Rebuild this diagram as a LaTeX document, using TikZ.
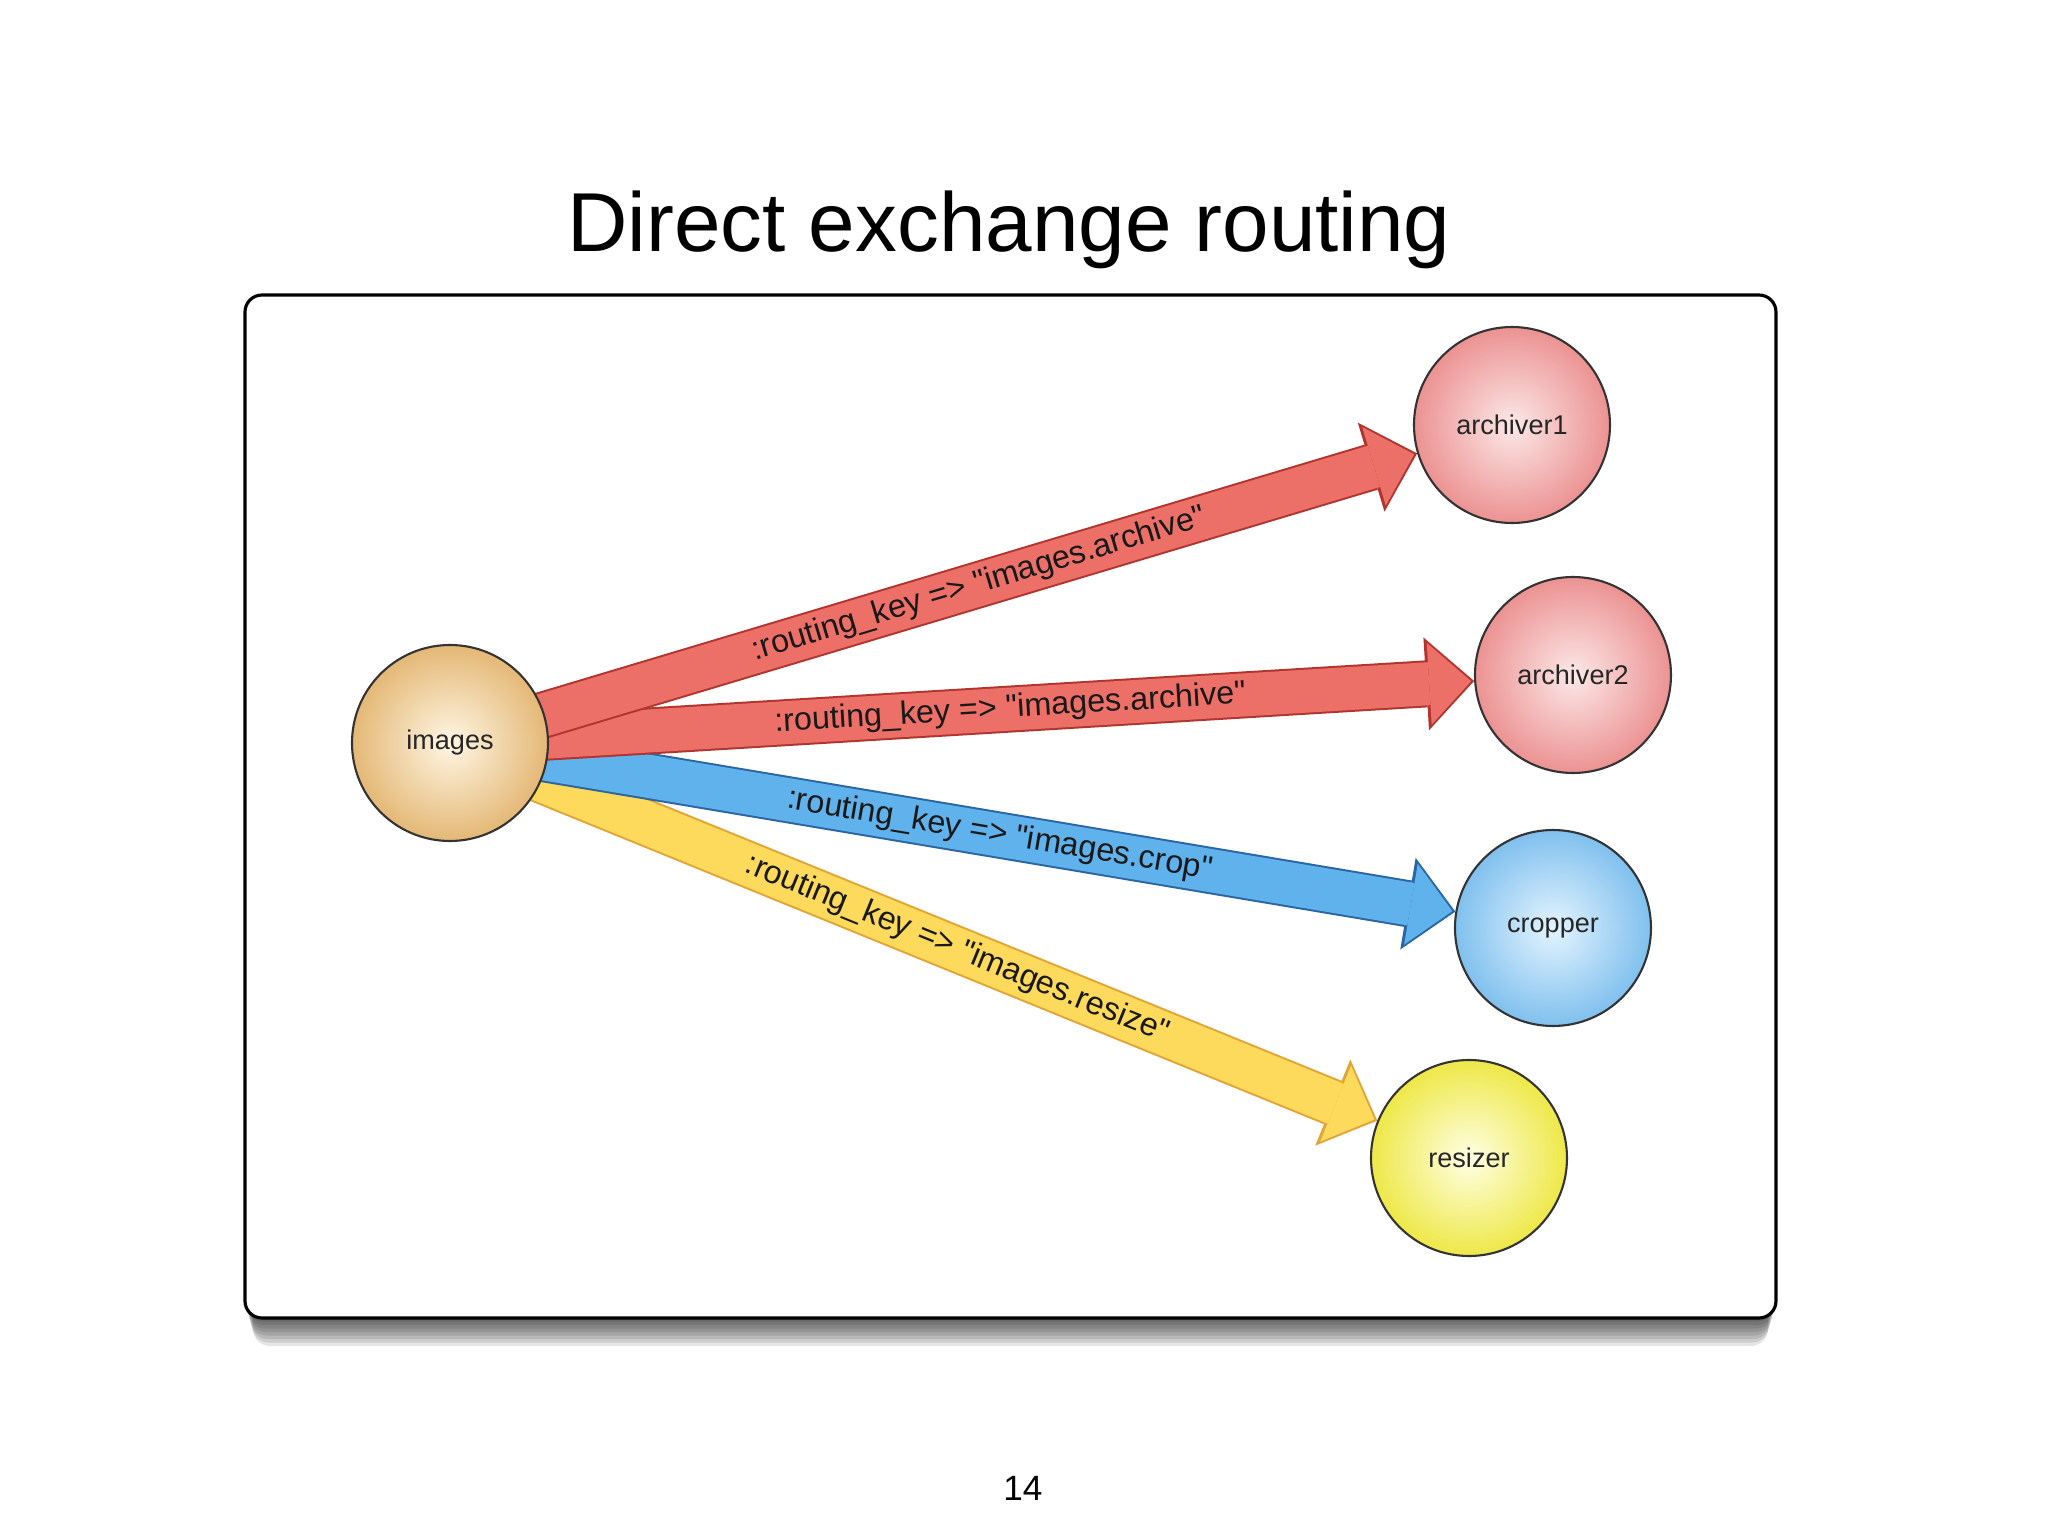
\documentclass[tikz,border=0pt]{standalone}
\usepackage{fontspec}
\setmainfont{Liberation Sans}
\usepackage{xcolor}
\usetikzlibrary{arrows.meta,backgrounds}
\definecolor{archin}{RGB}{252,232,232}
\definecolor{archout}{RGB}{236,146,146}
\definecolor{imgin}{RGB}{255,246,228}
\definecolor{imgout}{RGB}{228,184,118}
\definecolor{cropin}{RGB}{228,244,255}
\definecolor{cropout}{RGB}{128,192,238}
\definecolor{sizein}{RGB}{255,255,228}
\definecolor{sizeout}{RGB}{238,232,72}
\definecolor{redband}{RGB}{236,112,104}
\definecolor{redline}{RGB}{178,52,46}
\definecolor{blueband}{RGB}{96,178,236}
\definecolor{blueline}{RGB}{42,102,162}
\definecolor{yelband}{RGB}{253,218,92}
\definecolor{yelline}{RGB}{226,164,52}
\newcommand{\rkey}[1]{:routing\_key => \textquotedbl images.#1\textquotedbl}

\begin{document}
\begin{tikzpicture}[
  queue/.style 2 args={circle,draw=black!80,line width=0.6pt,minimum size=1.96cm,inner sep=0pt,
    shading=radial,inner color=#1,outer color=#2,font=\fontsize{7.7}{9}\selectfont,text=black!85},
  route/.style 2 args={draw=#2,line width=0.43cm,shorten >=0.03cm,
    -{Triangle[length=0.42cm,width=0.82cm,line width=0pt]},
    preaction={draw=#1,line width=0.47cm,shorten >=0pt,
      -{Triangle[length=0.48cm,width=0.93cm,line width=0pt]}}},
  key/.style={sloped,pos=0.547,inner sep=0pt,font=\fontsize{9.2}{10}\selectfont,text=black!90}]
\useasboundingbox (0,0) rectangle (20.48,-15.36);
% title and page number
\node[font=\fontsize{23.8}{28}\selectfont,anchor=base] (title) at (10.09,-2.52) {Direct exchange routing};
\node[font=\fontsize{10}{12}\selectfont,anchor=base] (page) at (10.23,-15.0) {14};
% exchange and queues
\node[queue={imgin}{imgout}] (images) at (4.50,-7.43) {images};
\node[queue={archin}{archout}] (archiver1) at (15.12,-4.25) {archiver1};
\node[queue={archin}{archout}] (archiver2) at (15.73,-6.75) {archiver2};
\node[queue={cropin}{cropout}] (cropper) at (15.53,-9.28) {cropper};
\node[queue={sizein}{sizeout}] (resizer) at (14.69,-11.58) {resizer};
% panel and bindings behind the nodes
\begin{scope}[on background layer]
\fill[white] (0,0) rectangle (20.48,-15.36);
\foreach \d in {1,...,8}
  \fill[black,opacity=0.1,rounded corners=0.17cm] (2.45+0.01*\d,-2.95-0.035*\d) rectangle (17.76-0.01*\d,-13.18-0.035*\d);
\filldraw[fill=white,draw=black,line width=0.9pt,rounded corners=0.17cm] (2.45,-2.95) rectangle (17.76,-13.18);
\draw[route={yelline}{yelband}] (images.center) -- node[key] {\rkey{resize}} (resizer);
\draw[route={blueline}{blueband}] (images.center) -- node[key] {\rkey{crop}} (cropper);
\draw[route={redline}{redband}] (images.center) -- node[key] {\rkey{archive}} (archiver2);
\draw[route={redline}{redband}] (images.center) -- node[key] {\rkey{archive}} (archiver1);
\end{scope}
\end{tikzpicture}
\end{document}
